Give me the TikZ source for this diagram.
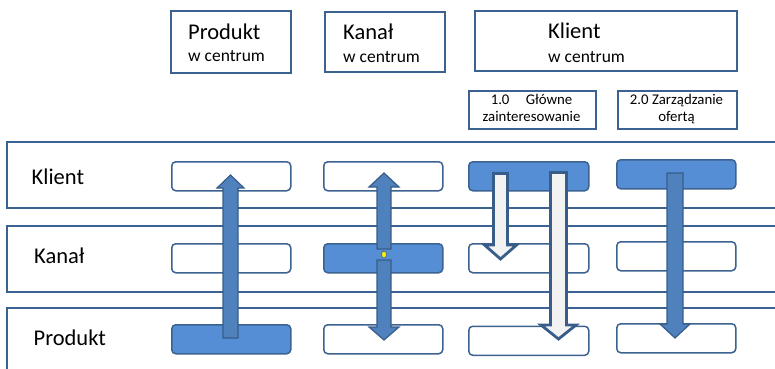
\documentclass[tikz,border=0pt]{standalone}
\usepackage{fontspec}
\setmainfont{Carlito}
\usetikzlibrary{shapes.geometric}

\definecolor{edge}{RGB}{60,98,145}
\definecolor{boxfill}{RGB}{85,142,213}
\definecolor{arrowfill}{RGB}{79,129,189}
\definecolor{arrowedge}{RGB}{56,93,138}
\definecolor{pale}{RGB}{242,242,242}

\tikzset{
  lane/.style={draw=edge, line width=1.5pt, inner sep=0pt, anchor=north west, minimum width=790pt, minimum height=66pt},
  title/.style={draw=edge, line width=2pt, fill=white, inner sep=0pt, anchor=north west},
  cell/.style={draw=edge, line width=1.5pt, rounded corners=4pt, fill=white, inner sep=0pt,
               anchor=north west, minimum width=119pt, minimum height=29pt},
  hot/.style={cell, fill=boxfill},
  txt/.style={inner sep=0pt, anchor=base west},
  ctxt/.style={inner sep=0pt, anchor=base},
  big/.style={font=\fontsize{22.5}{26}\selectfont},
  mid/.style={font=\fontsize{17.5}{21}\selectfont},
  small/.style={font=\fontsize{14.8}{18}\selectfont},
  blue arrow/.style={draw=arrowedge, line width=1.2pt, fill=arrowfill},
  pale arrow/.style={draw=arrowedge, line width=2.8pt, fill=pale, line join=miter},
}

% vertical block arrow: style, centre x, tail y, head base y, tip y, half shaft, half head
\newcommand\vblockarrow[7]{%
  \draw[#1] (#2-#6,#3) -- (#2+#6,#3) -- (#2+#6,#4) -- (#2+#7,#4) -- (#2,#5)
        -- (#2-#7,#4) -- (#2-#6,#4) -- cycle;}

\begin{document}
\begin{tikzpicture}[x=1pt,y=-1pt]
  \useasboundingbox (0,0) rectangle (775,368);
  \clip (0,0) rectangle (775,368);

  % swim lanes
  \node[lane] (laneK) at (6,141) {};
  \node[lane] (laneC) at (6,225) {};
  \node[lane, minimum height=90pt] (laneP) at (6,307) {};
  \node[txt, big] (lblK) at (31.5,184) {Klient};
  \node[txt, big] (lblC) at (34,263) {Kanał};
  \node[txt, big] (lblP) at (33.5,345) {Produkt};

  % column headings
  \node[title, minimum width=120pt, minimum height=62pt] (tP) at (170,10) {};
  \node[txt, big] (tP1) at (188,39) {Produkt};
  \node[txt, mid] (tP2) at (188,61.5) {w centrum};

  \node[title, minimum width=120pt, minimum height=60pt] (tC) at (324,11) {};
  \node[txt, big] (tC1) at (343,39) {Kanał};
  \node[txt, mid] (tC2) at (343,62) {w centrum};

  \node[title, minimum width=262pt, minimum height=60pt] (tK) at (474,10) {};
  \node[txt, big] (tK1) at (548,38) {Klient};
  \node[txt, mid] (tK2) at (548,62) {w centrum};

  \node[title, minimum width=127pt, minimum height=38pt] (s1) at (468,90) {};
  \node[ctxt, small] (s1a) at (531.5,104) {1.0\hspace{1.1em}Główne};
  \node[ctxt, small] (s1b) at (531.5,121) {zainteresowanie};

  \node[title, minimum width=119pt, minimum height=38pt] (s2) at (617,90) {};
  \node[ctxt, small] (s2a) at (676.5,104) {2.0 Zarządzanie};
  \node[ctxt, small] (s2b) at (676.5,121) {ofertą};

  % cells: column 1
  \node[cell] (k1) at (171,161) {};
  \node[cell] (c1) at (171,243) {};
  \node[hot]  (p1) at (171,324) {};
  % column 2
  \node[cell] (k2) at (323,161) {};
  \node[hot]  (c2) at (323,243) {};
  \node[cell] (p2) at (323,324) {};
  % column 3
  \node[hot, minimum width=120pt]  (k3) at (468,161) {};
  \node[cell, minimum width=120pt] (c3) at (468,243) {};
  \node[cell, minimum width=120pt] (p3) at (468,325.5) {};
  % column 4
  \node[hot]  (k4) at (616,159) {};
  \node[cell] (c4) at (616,241) {};
  \node[cell] (p4) at (616,323) {};

  % arrows
  \vblockarrow{blue arrow}{230.5}{338}{188}{175}{7.5}{13.5}
  \vblockarrow{blue arrow}{384}{249}{187}{173}{7}{15}
  \vblockarrow{blue arrow}{384}{260}{327}{340}{7}{15}
  \node[ellipse, draw=arrowedge, line width=0.6pt, fill=yellow, inner sep=0pt,
        minimum width=5pt, minimum height=7pt] (dot) at (384,254.5) {};
  \vblockarrow{pale arrow}{500.5}{173.5}{245}{259}{7}{16}
  \vblockarrow{pale arrow}{558.5}{172.5}{325}{339}{8}{17.5}
  \vblockarrow{blue arrow}{675}{173}{324}{338}{8}{15}
\end{tikzpicture}
\end{document}
